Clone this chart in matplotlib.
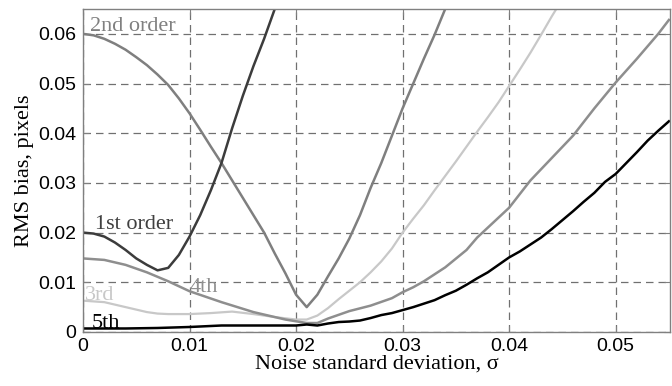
"""RMS bias vs noise standard deviation for interpolation orders 1-5."""

import matplotlib
matplotlib.use("Agg")
import matplotlib.pyplot as plt

# 1st order
x_1st = [0.0, 0.001, 0.002, 0.003, 0.004, 0.005, 0.006, 0.007, 0.008, 0.009,
         0.010, 0.011, 0.012, 0.013, 0.014, 0.015, 0.016, 0.017, 0.018, 0.019]
y_1st = [0.0200, 0.0198, 0.0192, 0.0180, 0.0165, 0.0148, 0.0135, 0.0124, 0.0129,
         0.0155, 0.0192, 0.0235, 0.0285, 0.0340, 0.0410, 0.0475, 0.0535, 0.0590,
         0.0650, 0.0710]

# 2nd order
x_2nd = [0.0, 0.001, 0.002, 0.003, 0.004, 0.005, 0.006, 0.007, 0.008, 0.009,
         0.010, 0.011, 0.012, 0.013, 0.014, 0.015, 0.016, 0.017, 0.018, 0.019,
         0.020, 0.021, 0.022, 0.023, 0.024, 0.025, 0.026, 0.027, 0.028, 0.029,
         0.030, 0.031, 0.032, 0.033, 0.034, 0.035]
y_2nd = [0.0600, 0.0597, 0.0590, 0.0580, 0.0568, 0.0553, 0.0537, 0.0518, 0.0497,
         0.0470, 0.0440, 0.0407, 0.0373, 0.0340, 0.0305, 0.0270, 0.0235, 0.0200,
         0.0158, 0.0118, 0.0075, 0.0050, 0.0075, 0.0112, 0.0148, 0.0188, 0.0235,
         0.0290, 0.0340, 0.0395, 0.0450, 0.0500, 0.0550, 0.0598, 0.0650, 0.0700]

# 3rd order
x_3rd = [0.0, 0.002, 0.004, 0.006, 0.007, 0.008, 0.010, 0.012, 0.014, 0.016,
         0.018, 0.020, 0.021, 0.022, 0.023, 0.024, 0.025, 0.026, 0.027, 0.028,
         0.029, 0.030, 0.031, 0.032, 0.033, 0.034, 0.035, 0.036, 0.037, 0.038,
         0.039, 0.040, 0.041, 0.042, 0.043, 0.044, 0.045]
y_3rd = [0.0063, 0.0060, 0.0050, 0.0040, 0.0037, 0.0036, 0.0036, 0.0038, 0.0041,
         0.0036, 0.0030, 0.0025, 0.0025, 0.0033, 0.0048, 0.0066, 0.0083, 0.0100,
         0.0120, 0.0142, 0.0168, 0.0200, 0.0228, 0.0255, 0.0285, 0.0314, 0.0343,
         0.0373, 0.0403, 0.0432, 0.0462, 0.0495, 0.0528, 0.0562, 0.0598, 0.0635,
         0.0670]

# 4th order
x_4th = [0.0, 0.002, 0.004, 0.006, 0.008, 0.010, 0.013, 0.016, 0.019, 0.021,
         0.022, 0.023, 0.025, 0.027, 0.029, 0.030, 0.031, 0.032, 0.034, 0.036,
         0.037, 0.038, 0.040, 0.042, 0.044, 0.046, 0.048, 0.050, 0.052, 0.054,
         0.055]
y_4th = [0.0148, 0.0145, 0.0135, 0.0120, 0.0102, 0.0082, 0.0060, 0.0040, 0.0025,
         0.0018, 0.0018, 0.0027, 0.0042, 0.0053, 0.0068, 0.0080, 0.0090, 0.0102,
         0.0130, 0.0165, 0.0190, 0.0210, 0.0250, 0.0305, 0.0350, 0.0395, 0.0450,
         0.0502, 0.0550, 0.0600, 0.0628]

# 5th order
x_5th = [0.0, 0.004, 0.007, 0.010, 0.013, 0.016, 0.020, 0.021, 0.022, 0.023,
         0.024, 0.025, 0.026, 0.027, 0.028, 0.029, 0.030, 0.031, 0.032, 0.033,
         0.034, 0.035, 0.036, 0.037, 0.038, 0.039, 0.040, 0.041, 0.042, 0.043,
         0.044, 0.045, 0.046, 0.047, 0.048, 0.049, 0.050, 0.051, 0.052, 0.053,
         0.054, 0.055]
y_5th = [0.0007, 0.0007, 0.0008, 0.0010, 0.0013, 0.0013, 0.0013, 0.0015, 0.0013,
         0.0017, 0.0020, 0.0021, 0.0023, 0.0028, 0.0034, 0.0038, 0.0044, 0.0050,
         0.0057, 0.0064, 0.0074, 0.0083, 0.0095, 0.0108, 0.0120, 0.0135, 0.0150,
         0.0162, 0.0176, 0.0190, 0.0207, 0.0225, 0.0243, 0.0262, 0.0280, 0.0302,
         0.0318, 0.0340, 0.0362, 0.0385, 0.0405, 0.0424]

x_ticks = [0, 0.01, 0.02, 0.03, 0.04, 0.05]
x_tick_labels = ["0", "0.01", "0.02", "0.03", "0.04", "0.05"]
y_ticks = [0, 0.01, 0.02, 0.03, 0.04, 0.05, 0.06]
y_tick_labels = ["0", "0.01", "0.02", "0.03", "0.04", "0.05", "0.06"]

SERIF = "Liberation Serif"
SANS = "Liberation Sans"

fig = plt.figure(figsize=(6.72, 3.86), dpi=100)
ax = fig.add_axes([0.1235, 0.14, 0.8735, 0.8367])

ax.plot(x_2nd, y_2nd, color="#7f7f7f", lw=1.8)
ax.plot(x_3rd, y_3rd, color="#c8c8c8", lw=1.6)
ax.plot(x_4th, y_4th, color="#8e8e8e", lw=1.8)
ax.plot(x_1st, y_1st, color="#3c3c3c", lw=1.8)
ax.plot(x_5th, y_5th, color="black", lw=1.8)

ax.set_xlim(0, 0.0551)
ax.set_ylim(0, 0.065)
ax.set_xticks(x_ticks)
ax.set_xticklabels(x_tick_labels, fontfamily=SANS, fontsize=14)
ax.set_yticks(y_ticks)
ax.set_yticklabels(y_tick_labels, fontfamily=SANS, fontsize=14)
ax.tick_params(direction="in", length=4, color="#808080", top=True, right=True)
ax.tick_params(axis="x", pad=4)
ax.tick_params(axis="y", pad=5)

ax.grid(True, color="#707070", linestyle=(0, (6, 4)), lw=0.9)
for sp in ax.spines.values():
    sp.set_color("#808080")
    sp.set_linewidth(1.0)

ax.set_xlabel("Noise standard deviation, σ", fontfamily=SERIF, fontsize=16, labelpad=0)
ax.set_ylabel("RMS bias, pixels", fontfamily=SERIF, fontsize=16, labelpad=3)

# curve labels
ax.text(0.00066, 0.0605, "2nd order", color="#808080", fontfamily=SERIF, fontsize=16, va="baseline")
ax.text(0.0011, 0.0208, "1st order", color="#404040", fontfamily=SERIF, fontsize=16, va="baseline")
ax.text(0.0100, 0.0080, "4th", color="#909090", fontfamily=SERIF, fontsize=16, va="baseline")
ax.text(0.0002, 0.0064, "3rd", color="#c8c8c8", fontfamily=SERIF, fontsize=16, va="baseline")
ax.text(0.0008, 0.0008, "5th", color="black", fontfamily=SERIF, fontsize=16, va="baseline")

fig.savefig("out.png", dpi=100)
